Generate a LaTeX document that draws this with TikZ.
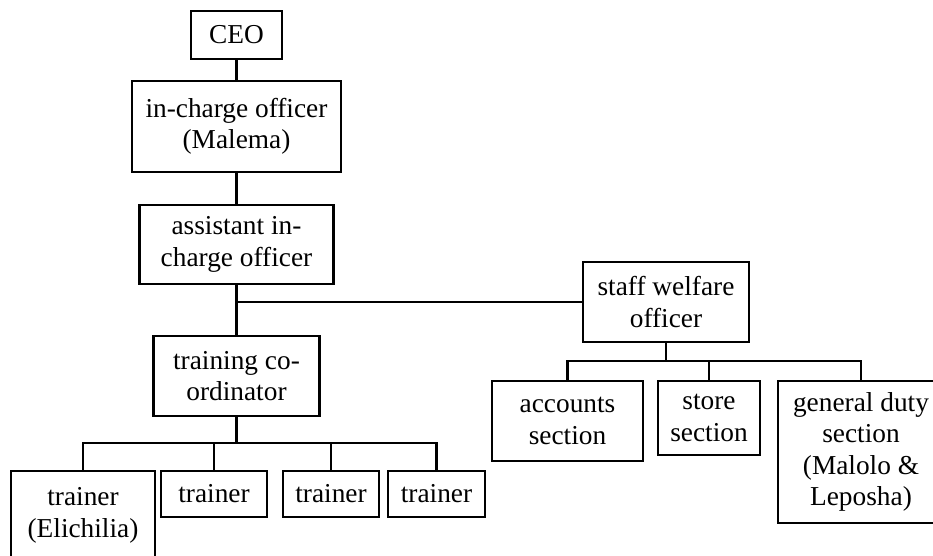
\documentclass[tikz,border=0pt]{standalone}
\usepackage{fontspec}
\setmainfont{Liberation Serif}
\tikzset{box/.style 2 args={draw, rectangle, inner sep=0pt, align=center,
    minimum width=#1*0.75pt, minimum height=#2*0.75pt,
    font=\fontsize{20.5}{23.5}\selectfont}}

\begin{document}
\begin{tikzpicture}[x=0.75pt, y=-0.75pt, line width=1.6pt]
   \useasboundingbox (0,0) rectangle (933,556);
   \clip (0,0) rectangle (933,556);
   \node[box={91}{48}]   (ceo)      at (236.5, 35.0) {CEO};
   \node[box={209}{91}]  (incharge) at (236.5,126.5) {in-charge officer\\(Malema)};
   \node[box={194}{79}]  (assist)   at (236.5,244.5) {assistant in-\\charge officer};
   \node[box={166}{80}]  (train)    at (236.5,376.0) {training co-\\ordinator};
   \node[box={166}{80}]  (staff)    at (666.0,302.0) {staff welfare\\officer};
   \node[box={144}{89}]  (tr1)      at ( 83.0,515.5) {trainer\\(Elichilia)};
   \node[box={106}{46}]  (tr2)      at (214.0,494.0) {trainer};
   \node[box={96}{46}]   (tr3)      at (331.0,494.0) {trainer};
   \node[box={97}{46}]   (tr4)      at (436.5,494.0) {trainer};
   \node[box={151}{80}]  (acc)      at (567.5,421.0) {accounts\\section};
   \node[box={102}{74}]  (store)    at (709.0,418.0) {store\\section};
   \node[box={166}{142}] (gen)      at (861.0,452.0) {general duty\\section\\(Malolo \&\\Leposha)};
   \coordinate (jn)   at (assist.south |- staff.west);
   \coordinate (tbus) at (236.5,443);
   \coordinate (sbus) at (666,361);
   \draw (ceo) -- (incharge);
   \draw (incharge) -- (assist);
   \draw (assist) -- (train);
   \draw (jn) -- (staff);
   \draw (train) -- (tbus);
   \draw (staff) -- (sbus);
   \foreach \t in {tr1,tr2,tr3,tr4}
     \draw (tbus) -| (\t);
   \foreach \s in {acc,store,gen}
     \draw (sbus) -| (\s);
  \end{tikzpicture}
\end{document}
